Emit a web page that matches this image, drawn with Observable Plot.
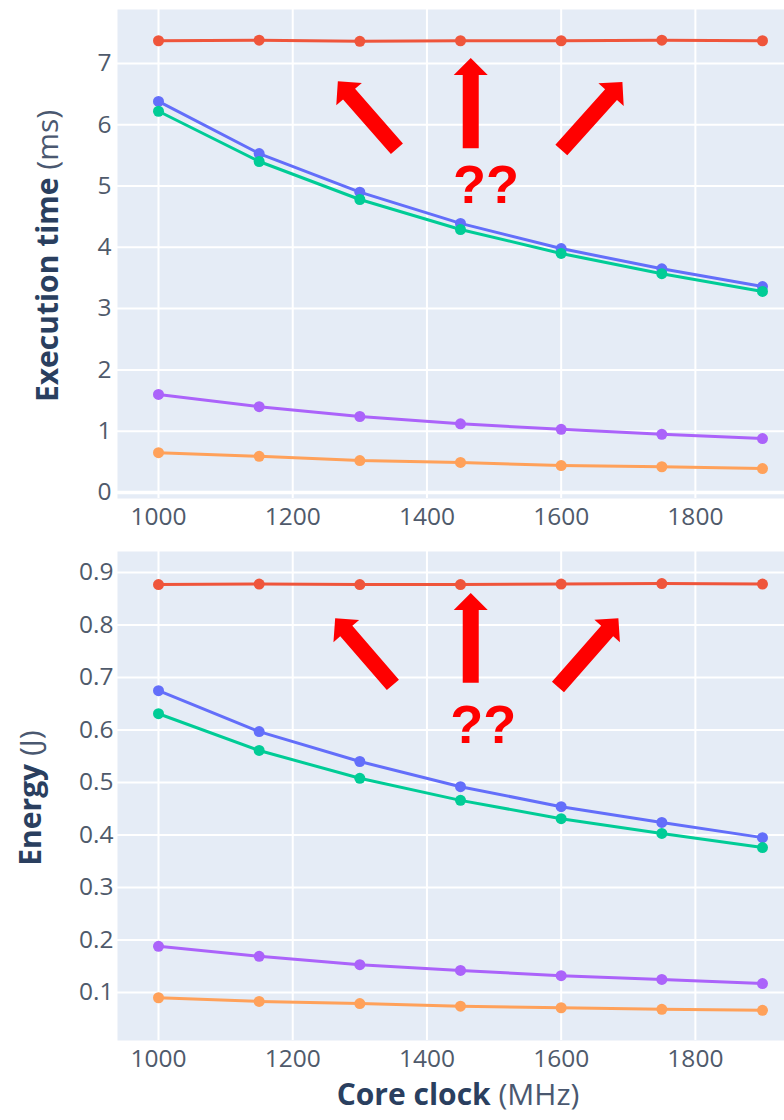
<!DOCTYPE html>
<html>
<head>
<meta charset="utf-8">
<script src="https://cdn.jsdelivr.net/npm/d3@7"></script>
<script src="https://cdn.jsdelivr.net/npm/@observablehq/plot@0.6"></script>
<style>
  html, body { margin: 0; padding: 0; background: #fff; }
  #chart svg { display: block; }
</style>
</head>
<body>
<div id="chart"></div>
<script>
// ---- data ----
const clocks = [1000, 1150, 1300, 1450, 1600, 1750, 1900];
const seriesNames = ["Series 1", "Series 2", "Series 3", "Series 4", "Series 5"];
const seriesColors = ["#EF553B", "#636EFA", "#00CC96", "#AB63FA", "#FFA15A"];

const timeRed    = [7.37, 7.38, 7.36, 7.37, 7.37, 7.38, 7.37];
const timeBlue   = [6.38, 5.53, 4.90, 4.39, 3.98, 3.65, 3.36];
const timeGreen  = [6.22, 5.40, 4.78, 4.29, 3.90, 3.57, 3.28];
const timePurple = [1.60, 1.40, 1.24, 1.12, 1.03, 0.95, 0.88];
const timeOrange = [0.65, 0.59, 0.52, 0.49, 0.44, 0.42, 0.39];

const energyRed    = [0.877, 0.878, 0.877, 0.877, 0.878, 0.879, 0.878];
const energyBlue   = [0.675, 0.597, 0.540, 0.492, 0.454, 0.424, 0.395];
const energyGreen  = [0.631, 0.561, 0.508, 0.466, 0.431, 0.403, 0.376];
const energyPurple = [0.188, 0.169, 0.153, 0.142, 0.132, 0.125, 0.117];
const energyOrange = [0.090, 0.083, 0.079, 0.074, 0.071, 0.068, 0.066];

const xTicks = [1000, 1200, 1400, 1600, 1800];
const timeTicks = [0, 1, 2, 3, 4, 5, 6, 7];
const energyTicks = [0.1, 0.2, 0.3, 0.4, 0.5, 0.6, 0.7, 0.8, 0.9];

// annotation arrows (tail -> tip, data coordinates) and "??" labels
const timeArrows = [
  {x1: 1356, y1: 5.60, x2: 1268, y2: 6.70},
  {x1: 1466, y1: 5.61, x2: 1466, y2: 7.08},
  {x1: 1601, y1: 5.58, x2: 1692, y2: 6.69}
];
const timeNote = [{x: 1488, y: 4.73, text: "??"}];
const energyArrows = [
  {x1: 1350, y1: 0.685, x2: 1264, y2: 0.812},
  {x1: 1466, y1: 0.689, x2: 1466, y2: 0.860},
  {x1: 1596, y1: 0.681, x2: 1686, y2: 0.812}
];
const energyNote = [{x: 1484, y: 0.576, text: "??"}];

// ---- build tables ----
function table(arrays) {
  const rows = [];
  arrays.forEach((arr, s) => arr.forEach((v, i) => rows.push({clock: clocks[i], value: v, series: seriesNames[s]})));
  return rows;
}
const timeData = table([timeRed, timeBlue, timeGreen, timePurple, timeOrange]);
const energyData = table([energyRed, energyBlue, energyGreen, energyPurple, energyOrange]);

const FONT = "'Open Sans', 'Liberation Sans', Arial, sans-serif";
const TICK_COLOR = "#4f5a6b";
const TITLE_COLOR = "#2a3f5f";

function arrowMark(arrows) {
  return (index, scales) => {
    const g = d3.create("svg:g");
    const hl = 17, hw = 17, sw = 8;
    for (const a of arrows) {
      const tx = scales.x(a.x1), ty = scales.y(a.y1);
      const px = scales.x(a.x2), py = scales.y(a.y2);
      const dx = px - tx, dy = py - ty, L = Math.hypot(dx, dy);
      const ux = dx / L, uy = dy / L, nx = -uy, ny = ux;
      const bx = px - ux * hl, by = py - uy * hl;
      const pts = [
        [tx + nx * sw, ty + ny * sw],
        [bx + nx * sw, by + ny * sw],
        [bx + nx * hw, by + ny * hw],
        [px, py],
        [bx - nx * hw, by - ny * hw],
        [bx - nx * sw, by - ny * sw],
        [tx - nx * sw, ty - ny * sw]
      ];
      g.append("polygon").attr("points", pts.map(p => p.join(",")).join(" ")).attr("fill", "#FF0000");
    }
    return g.node();
  };
}

function panel({data, height, marginTop, marginBottom, yDomain, yTicks, yFormat, zero, arrows, note, tickPadY}) {
  return Plot.plot({
    width: 784,
    height,
    marginLeft: 117,
    marginRight: 0,
    marginTop,
    marginBottom,
    style: {fontFamily: FONT, fontSize: "24.5px", color: TICK_COLOR, background: "transparent"},
    x: {domain: [938.9, 1932.8], ticks: xTicks, tickSize: 0, tickPadding: 9, tickFormat: d3.format("d"), label: null},
    y: {domain: yDomain, ticks: yTicks, tickSize: 0, tickPadding: tickPadY, tickFormat: yFormat, label: null},
    color: {domain: seriesNames, range: seriesColors},
    marks: [
      Plot.frame({fill: "#E5ECF6", stroke: null}),
      Plot.gridX(xTicks, {stroke: "#ffffff", strokeOpacity: 1, strokeWidth: 2}),
      Plot.gridY(yTicks, {stroke: "#ffffff", strokeOpacity: 1, strokeWidth: 2}),
      zero ? Plot.ruleY([0], {stroke: "#ffffff", strokeWidth: 3.5}) : null,
      Plot.line(data, {x: "clock", y: "value", z: "series", stroke: "series", strokeWidth: 3}),
      Plot.dot(data, {x: "clock", y: "value", fill: "series", r: 5.5}),
      arrowMark(arrows),
      Plot.text(note, {x: "x", y: "y", text: "text", fill: "#FF0000", fontSize: 54, fontWeight: "bold",
        fontFamily: "'Liberation Sans', Arial, sans-serif", lineAnchor: "bottom", textAnchor: "middle"})
    ]
  });
}

function addTitle(svg, {x, y, rotate, bold, normal}) {
  const t = d3.select(svg).append("text")
    .attr("transform", `translate(${x},${y})` + (rotate ? ` rotate(${rotate})` : ""))
    .attr("text-anchor", "middle")
    .attr("dominant-baseline", "central")
    .attr("font-family", FONT)
    .attr("font-size", 30)
    .attr("fill", TITLE_COLOR);
  t.append("tspan").attr("font-weight", "bold").text(bold);
  t.append("tspan").attr("fill", "#4a5870").text(" " + normal);
}

const topPanel = panel({
  data: timeData, height: 540, marginTop: 9, marginBottom: 42,
  yDomain: [-0.098, 7.88], yTicks: timeTicks, yFormat: d3.format("d"), zero: true,
  arrows: timeArrows, note: timeNote, tickPadY: 6
});
addTitle(topPanel, {x: 46, y: 256, rotate: -90, bold: "Execution time", normal: "(ms)"});

const bottomPanel = panel({
  data: energyData, height: 580, marginTop: 11, marginBottom: 80,
  yDomain: [0.0086, 0.940], yTicks: energyTicks, yFormat: d3.format(".1f"), zero: false,
  arrows: energyArrows, note: energyNote, tickPadY: 4
});
addTitle(bottomPanel, {x: 29, y: 258, rotate: -90, bold: "Energy", normal: "(J)"});
addTitle(bottomPanel, {x: 458, y: 553, rotate: 0, bold: "Core clock", normal: "(MHz)"});

document.getElementById("chart").append(topPanel, bottomPanel);
</script>
</body>
</html>
